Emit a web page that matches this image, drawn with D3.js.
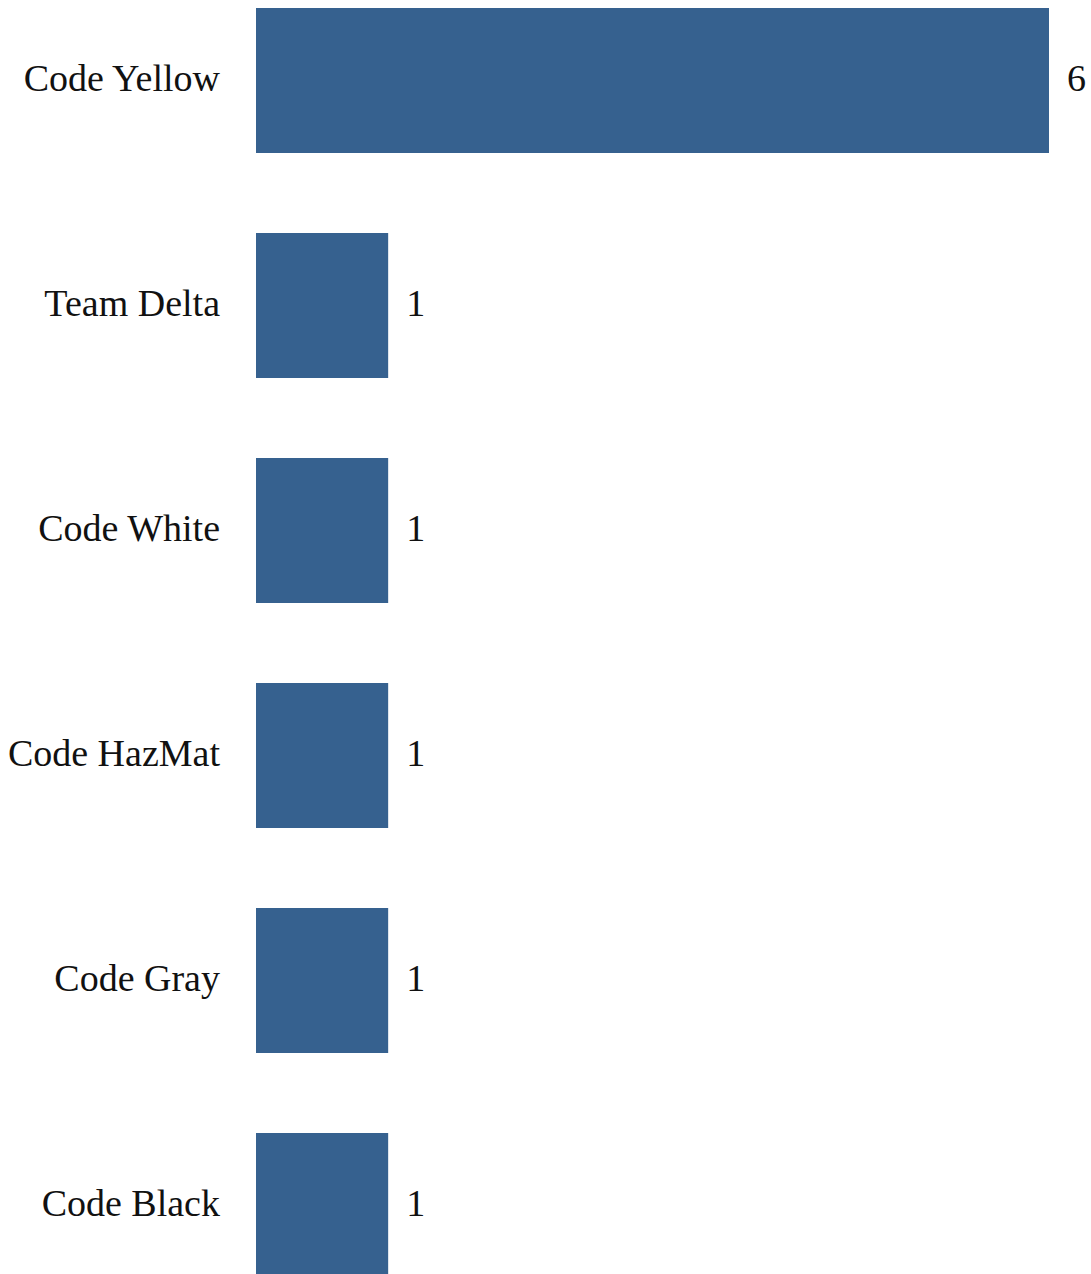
<!DOCTYPE html>
<html>
<head>
<meta charset="utf-8">
<script src="https://cdn.jsdelivr.net/npm/d3@7"></script>
<style>
html, body { margin: 0; padding: 0; background: #fff; overflow: hidden; }
svg { display: block; }
</style>
</head>
<body>
<div id="chart"></div>
<script>
const categories = ["Code Yellow", "Team Delta", "Code White", "Code HazMat", "Code Gray", "Code Black"];
const values = [6, 1, 1, 1, 1, 1];

const width = 1091, height = 1290;
const svg = d3.select("#chart").append("svg")
  .attr("width", width).attr("height", height);

const x = d3.scaleLinear().domain([0, 6]).range([256, 1049]);
const y = d3.scaleBand().domain(categories).range([8, 1278])
  .paddingInner(80 / 225).paddingOuter(0);

const data = categories.map((c, i) => ({ c, v: values[i] }));

svg.selectAll("rect.bar").data(data).enter().append("rect")
  .attr("class", "bar")
  .attr("x", x(0))
  .attr("y", d => y(d.c))
  .attr("width", d => x(d.v) - x(0))
  .attr("height", y.bandwidth())
  .attr("fill", "#36618f");

const font = "'Liberation Serif', 'Times New Roman', serif";

svg.selectAll("text.cat").data(data).enter().append("text")
  .attr("class", "cat")
  .attr("x", 220)
  .attr("y", d => y(d.c) + y.bandwidth() / 2)
  .attr("dy", "0.28em")
  .attr("text-anchor", "end")
  .attr("font-family", font)
  .attr("font-size", 38)
  .attr("fill", "#111")
  .text(d => d.c);

svg.selectAll("text.val").data(data).enter().append("text")
  .attr("class", "val")
  .attr("x", d => x(d.v) + 18)
  .attr("y", d => y(d.c) + y.bandwidth() / 2)
  .attr("dy", "0.28em")
  .attr("text-anchor", "start")
  .attr("font-family", font)
  .attr("font-size", 38)
  .attr("fill", "#111")
  .text(d => d.v);
</script>
</body>
</html>
